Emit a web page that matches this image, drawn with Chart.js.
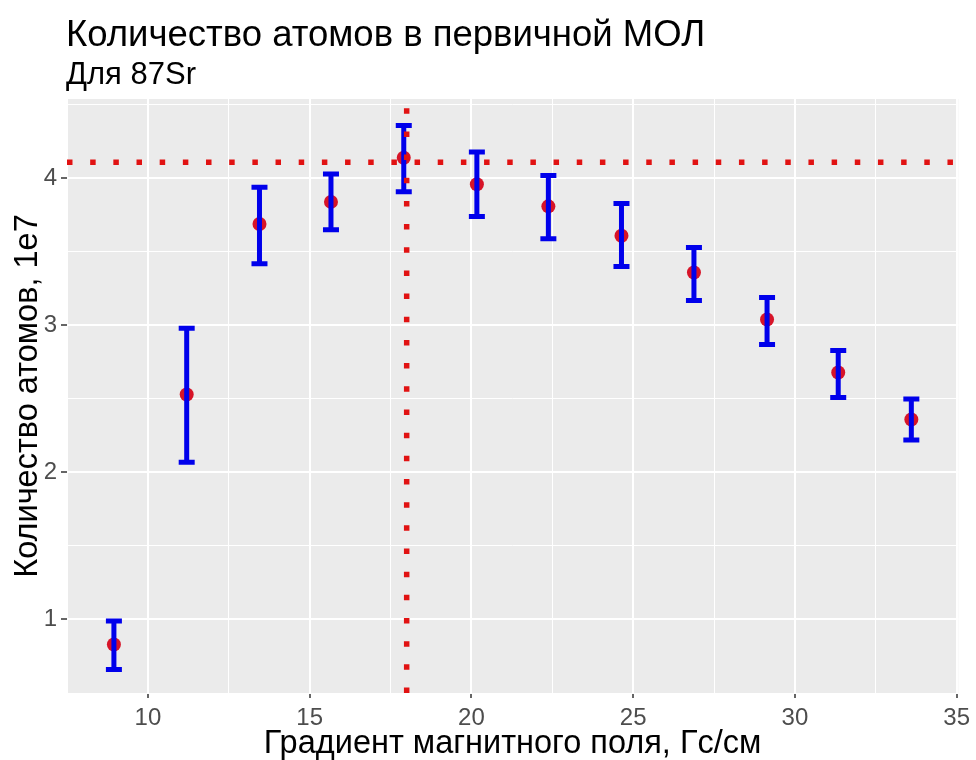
<!DOCTYPE html>
<html>
<head>
<meta charset="utf-8">
<script src="https://cdn.jsdelivr.net/npm/chart.js@4.4.1/dist/chart.umd.min.js"></script>
<style>
  html, body { margin: 0; padding: 0; background: #ffffff; }
  #wrap { width: 976px; height: 760px; position: relative; }
</style>
</head>
<body>
<div id="wrap"><canvas id="c" width="976" height="760"></canvas></div>
<script>
// ---- data ----
const titleText = "Количество атомов в первичной МОЛ";
const subtitleText = "Для 87Sr";
const xTitle = "Градиент магнитного поля, Гс/см";
const yTitle = "Количество атомов, 1e7";

const gradient = [8.95, 11.2, 13.45, 15.66, 17.91, 20.17, 22.38, 24.64, 26.88, 29.14, 31.34, 33.6];
const atoms    = [0.83, 2.53, 3.69, 3.84, 4.14, 3.96, 3.81, 3.61, 3.36, 3.04, 2.68, 2.36];
const atomsHi  = [0.99, 2.98, 3.94, 4.03, 4.36, 4.18, 4.02, 3.83, 3.53, 3.19, 2.83, 2.50];
const atomsLo  = [0.66, 2.07, 3.42, 3.65, 3.91, 3.74, 3.59, 3.40, 3.17, 2.87, 2.51, 2.22];

const hLineValue = 4.11;
const vLineValue = 18.0;

const xMajorTicks = [10, 15, 20, 25, 30, 35];
const xMinorTicks = [7.5, 12.5, 17.5, 22.5, 27.5, 32.5];
const yMajorTicks = [1, 2, 3, 4];
const yMinorTicks = [0.5, 1.5, 2.5, 3.5, 4.5];

const FONT = "'Liberation Sans', Arial, sans-serif";

const panelBg = {
  id: 'panelBg',
  beforeDraw(chart) {
    const {ctx, chartArea: a} = chart;
    ctx.save();
    ctx.fillStyle = '#EBEBEB';
    ctx.fillRect(a.left, a.top, a.right - a.left, a.bottom - a.top);
    ctx.restore();
  }
};

const overlays = {
  id: 'overlays',
  afterDatasetsDraw(chart) {
    const {ctx, chartArea: a, scales: {x, y}} = chart;
    ctx.save();
    // error bars
    ctx.strokeStyle = 'rgb(0,0,235)';
    ctx.lineWidth = 5;
    ctx.lineCap = 'butt';
    const capHalf = 8;
    for (let i = 0; i < gradient.length; i++) {
      const px = x.getPixelForValue(gradient[i]);
      const pt = y.getPixelForValue(atomsHi[i]);
      const pb = y.getPixelForValue(atomsLo[i]);
      ctx.beginPath();
      ctx.moveTo(px, pt); ctx.lineTo(px, pb);
      ctx.moveTo(px - capHalf, pt); ctx.lineTo(px + capHalf, pt);
      ctx.moveTo(px - capHalf, pb); ctx.lineTo(px + capHalf, pb);
      ctx.stroke();
    }
    // dotted reference lines
    ctx.beginPath();
    ctx.rect(a.left, a.top, a.right - a.left, a.bottom - a.top);
    ctx.clip();
    ctx.strokeStyle = 'rgb(225,18,18)';
    ctx.lineWidth = 5.5;
    ctx.setLineDash([5.5, 17.67]);
    const hy = y.getPixelForValue(hLineValue);
    ctx.beginPath();
    ctx.moveTo(a.left, hy); ctx.lineTo(a.right, hy);
    ctx.stroke();
    const vx = x.getPixelForValue(vLineValue);
    ctx.beginPath();
    ctx.moveTo(vx, a.bottom); ctx.lineTo(vx, a.top);
    ctx.stroke();
    ctx.restore();
  }
};

const titles = {
  id: 'titles',
  afterDraw(chart) {
    const ctx = chart.ctx;
    ctx.save();
    ctx.fillStyle = '#000000';
    ctx.textAlign = 'left';
    ctx.textBaseline = 'alphabetic';
    ctx.font = `36.5px ${FONT}`;
    ctx.fillText(titleText, 66, 46);
    ctx.font = `31px ${FONT}`;
    ctx.fillText(subtitleText, 66, 84);
    ctx.restore();
  }
};

const isMajorX = v => xMajorTicks.includes(v);
const isMajorY = v => yMajorTicks.includes(v);

new Chart(document.getElementById('c'), {
  type: 'scatter',
  data: {
    datasets: [{
      data: gradient.map((g, i) => ({x: g, y: atoms[i]})),
      backgroundColor: 'rgb(215,20,40)',
      borderColor: 'rgb(215,20,40)',
      borderWidth: 0,
      pointRadius: 7,
      pointHoverRadius: 7
    }]
  },
  options: {
    responsive: false,
    animation: false,
    events: [],
    layout: { padding: { top: 99, left: 0, right: 15, bottom: 0 } },
    plugins: { legend: { display: false }, tooltip: { enabled: false } },
    scales: {
      x: {
        type: 'linear',
        min: 7.5, max: 35.05,
        afterBuildTicks(scale) {
          scale.ticks = [...xMinorTicks, ...xMajorTicks].sort((a, b) => a - b).map(v => ({value: v}));
        },
        afterFit(scale) { scale.height = 67; },
        border: { display: false },
        grid: {
          color: '#FFFFFF',
          lineWidth: ctx => isMajorX(ctx.tick.value) ? 2 : 1,
          tickLength: 5,
          tickWidth: 1.5,
          tickColor: ctx => isMajorX(ctx.tick.value) ? '#333333' : 'rgba(0,0,0,0)'
        },
        ticks: {
          autoSkip: false,
          maxRotation: 0,
          padding: 6,
          color: '#4D4D4D',
          font: { family: FONT, size: 24 },
          callback: v => isMajorX(v) ? String(v) : ''
        },
        title: {
          display: true,
          text: xTitle,
          color: '#000000',
          font: { family: FONT, size: 32.5, lineHeight: 1 },
          padding: { top: 0, bottom: 0 }
        }
      },
      y: {
        type: 'linear',
        min: 0.5, max: 4.54,
        afterBuildTicks(scale) {
          scale.ticks = [...yMinorTicks, ...yMajorTicks].sort((a, b) => a - b).map(v => ({value: v}));
        },
        afterFit(scale) { scale.width = 67; },
        border: { display: false },
        grid: {
          color: '#FFFFFF',
          lineWidth: ctx => isMajorY(ctx.tick.value) ? 2 : 1,
          tickLength: 6,
          tickWidth: 1.5,
          tickColor: ctx => isMajorY(ctx.tick.value) ? '#333333' : 'rgba(0,0,0,0)'
        },
        ticks: {
          autoSkip: false,
          padding: 4,
          color: '#4D4D4D',
          font: { family: FONT, size: 24 },
          callback: v => isMajorY(v) ? String(v) : ''
        },
        title: {
          display: true,
          text: yTitle,
          color: '#000000',
          font: { family: FONT, size: 32.5, lineHeight: 1 },
          padding: { top: 12, bottom: 0 }
        }
      }
    }
  },
  plugins: [panelBg, overlays, titles]
});
</script>
</body>
</html>
